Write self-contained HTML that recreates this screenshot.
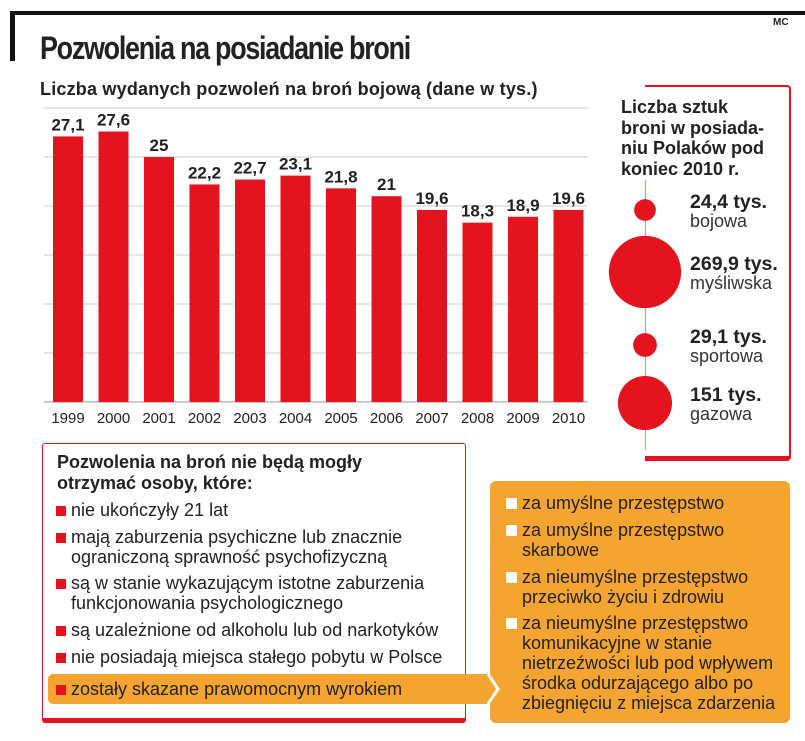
<!DOCTYPE html>
<html><head><meta charset="utf-8">
<style>
body{margin:0;width:805px;height:741px;background:#fff;position:relative;overflow:hidden;font-family:"Liberation Sans","DejaVu Sans",sans-serif;color:#222}
.a{position:absolute}
.sq{display:inline-block;width:10px;height:10px;background:#e3141e;margin-right:5px;vertical-align:0px}
.wsq{display:inline-block;width:11px;height:11px;background:#fff;margin-right:5px}
.li{position:absolute;font-size:18px;line-height:20px;white-space:nowrap}
</style></head><body>
<div class="a" style="left:10px;top:11px;width:795px;height:4px;background:#111"></div>
<div class="a" style="left:10px;top:11px;width:5px;height:50px;background:#111"></div>
<div class="a" style="left:773px;top:17px;font-size:10px;font-weight:bold">MC</div>
<div class="a" style="left:40px;top:30px;font-size:32px;font-weight:bold;letter-spacing:-1.5px;transform:scaleX(0.84);transform-origin:left">Pozwolenia na posiadanie broni</div>
<div class="a" style="left:40px;top:79px;font-size:18px;font-weight:bold;letter-spacing:0.2px">Liczba wydanych pozwoleń na broń bojową (dane w tys.)</div>

<svg class="a" style="left:0;top:0" width="805" height="441">
<g id="g"></g>
</svg>

<div class="a" style="left:645px;top:85px;width:144px;height:369px;border-top:2px solid #e3141e;border-right:2px solid #e3141e;border-bottom:5px solid #e3141e;border-radius:0 4px 4px 0"></div>
<div class="a" style="left:645px;top:180px;width:1px;height:270px;background:#e88"></div>
<div class="a" style="left:621px;top:97px;font-size:18px;line-height:20.5px;font-weight:bold;background:#fff;padding-right:4px">Liczba sztuk<br>broni w posiada-<br>niu Polaków pod<br>koniec 2010 r.</div>
<svg class="a" style="left:590px;top:180px" width="215" height="280"><g id="b"></g></svg>

<div class="a" style="left:42px;top:443px;width:422px;height:274px;border:1px solid #e3141e;border-bottom:5px solid #e3141e;border-radius:3px"></div>
<div class="a" style="left:57px;top:452px;font-size:18px;line-height:21px;font-weight:bold">Pozwolenia na broń nie będą mogły<br>otrzymać osoby, które:</div>
<div class="li" style="left:56px;top:500px"><span class="sq"></span>nie ukończyły 21 lat</div>
<div class="li" style="left:56px;top:527px"><span class="sq"></span>mają zaburzenia psychiczne lub znacznie<br><span style="padding-left:15px">ograniczoną sprawność psychofizyczną</span></div>
<div class="li" style="left:56px;top:573px"><span class="sq"></span>są w stanie wykazującym istotne zaburzenia<br><span style="padding-left:15px">funkcjonowania psychologicznego</span></div>
<div class="li" style="left:56px;top:620px"><span class="sq"></span>są uzależnione od alkoholu lub od narkotyków</div>
<div class="li" style="left:56px;top:647px"><span class="sq"></span>nie posiadają miejsca stałego pobytu w Polsce</div>
<div class="a" style="left:48px;top:674px;width:440px;height:30px;background:#f5a431;border-radius:5px 0 0 5px"></div>
<svg class="a" style="left:486px;top:674px" width="20" height="30"><polygon points="0,0 6,0 16,15 6,30 0,30" fill="#f5a431"/></svg>
<div class="a" style="left:490px;top:481px;width:300px;height:242px;background:#f5a431;border-radius:6px"></div>
<svg class="a" style="left:486px;top:674px" width="20" height="30"><polyline points="2,0 12,15 2,30" fill="none" stroke="#fff" stroke-width="3"/></svg>
<div class="li" style="left:56px;top:679px"><span class="sq"></span>zostały skazane prawomocnym wyrokiem</div>
<div class="li" style="left:506px;top:493px"><span class="wsq"></span>za umyślne przestępstwo</div>
<div class="li" style="left:506px;top:520px"><span class="wsq"></span>za umyślne przestępstwo<br><span style="padding-left:16px">skarbowe</span></div>
<div class="li" style="left:506px;top:567px"><span class="wsq"></span>za nieumyślne przestępstwo<br><span style="padding-left:16px">przeciwko życiu i zdrowiu</span></div>
<div class="li" style="left:506px;top:613px"><span class="wsq"></span>za nieumyślne przestępstwo<br><span style="padding-left:16px">komunikacyjne w stanie</span><br><span style="padding-left:16px">nietrzeźwości lub pod wpływem</span><br><span style="padding-left:16px">środka odurzającego albo po</span><br><span style="padding-left:16px">zbiegnięciu z miejsca zdarzenia</span></div>

<script>
const years=["1999","2000","2001","2002","2003","2004","2005","2006","2007","2008","2009","2010"];
const values=[27.1,27.6,25,22.2,22.7,23.1,21.8,21,19.6,18.3,18.9,19.6];
const valueLabels=["27,1","27,6","25","22,2","22,7","23,1","21,8","21","19,6","18,3","18,9","19,6"];
const gridTicks=[0,5,10,15,20,25,30];
const bubbleValues=[24.4,269.9,29.1,151];
const bubbleValueLabels=["24,4 tys.","269,9 tys.","29,1 tys.","151 tys."];
const bubbleCategories=["bojowa","myśliwska","sportowa","gazowa"];

const NS="http://www.w3.org/2000/svg";
function mk(t,a,p){const e=document.createElementNS(NS,t);for(const k in a)e.setAttribute(k,a[k]);p.appendChild(e);return e;}
const g=document.getElementById('g');
const y=v=>402-v*9.8;
const x=i=>53+i*45.5;
gridTicks.forEach(t=>{const l=mk('line',{x1:44,x2:588,y1:y(t),y2:y(t),stroke:t===0?'#999':'#ccc','stroke-width':1},g);

});
values.forEach((v,i)=>{
const r=mk('rect',{x:x(i),y:y(v),width:30,height:y(0)-y(v),fill:'#e3141e'},g);


const t=mk('text',{x:x(i)+15,y:y(v)-6,'text-anchor':'middle','font-size':17,'font-weight':'bold',fill:'#222','font-family':'Liberation Sans'},g);t.textContent=valueLabels[i];


const l=mk('text',{x:x(i)+15,y:423,'text-anchor':'middle','font-size':15,fill:'#222','font-family':'Liberation Sans'},g);l.textContent=years[i];


});
const b=document.getElementById('b');
const cys=[30,92,165,223];
bubbleValues.forEach((v,i)=>{
const r=Math.sqrt(v)*2.2;
const c=mk('circle',{cx:55,cy:cys[i],r:r,fill:'#e3141e'},b);


const t=mk('text',{x:100,y:cys[i]-2,'font-size':19.5,'font-weight':'bold',fill:'#222','font-family':'Liberation Sans'},b);t.textContent=bubbleValueLabels[i];


const s=mk('text',{x:100,y:cys[i]+17,'font-size':18,fill:'#333','font-family':'Liberation Sans'},b);s.textContent=bubbleCategories[i];


});
</script>
</body></html>
